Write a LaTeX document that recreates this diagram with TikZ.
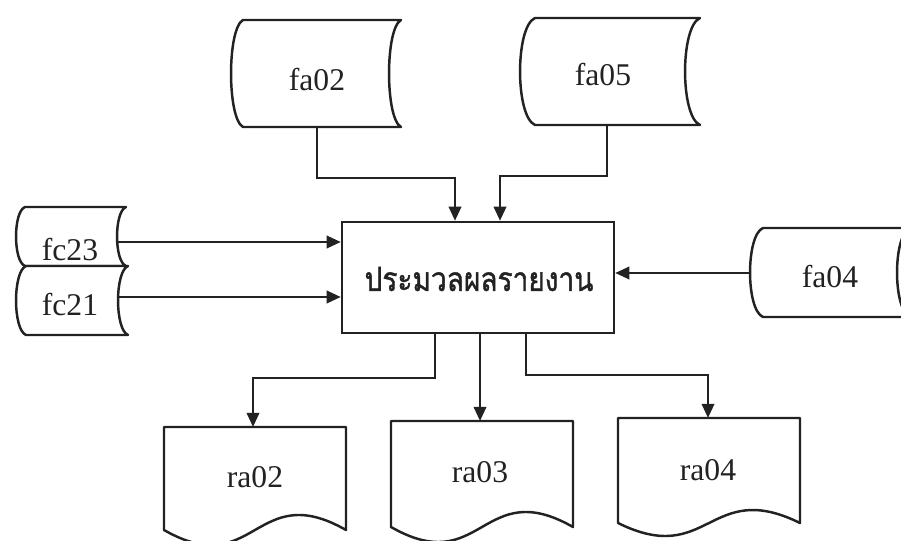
\documentclass[tikz,border=0pt]{standalone}
\usepackage{fontspec}
\setmainfont{Liberation Serif}
\newfontfamily\thaifont[Script=Thai, FakeStretch=0.84, FakeBold=1.2]{Loma}
\usetikzlibrary{arrows.meta}
\definecolor{ink}{HTML}{222222}

% stored-data symbol: corners (x1,y1)-(x2,y2), curved sides bulging left by b
\newcommand{\fcStored}[5]{%
  \path[shape line] (#1,#2) -- (#3,#2)
    .. controls ({#3-1.33*#5},{#2+0.08*(#4-#2)}) and ({#3-1.33*#5},{#4-0.08*(#4-#2)}) .. (#3,#4)
    -- (#1,#4)
    .. controls ({#1-1.33*#5},{#4-0.08*(#4-#2)}) and ({#1-1.33*#5},{#2+0.08*(#4-#2)}) .. cycle;}

% document symbol: left x1, top y1, right x2, side bottom y2, wave depth d
\newcommand{\fcDocument}[5]{%
  \path[shape line] (#1,#2) -- (#3,#2) -- (#3,#4)
    .. controls ({(#1+#3)/2},{#4-#5}) and ({(#1+#3)/2},{#4+#5}) .. (#1,#4) -- cycle;}

\begin{document}
\begin{tikzpicture}[x=0.02cm,y=-0.02cm,
  shape line/.style={draw=ink, line width=1.4pt, fill=white, line join=round},
  flow/.style={draw=ink, line width=1.4pt, -{Triangle[length=8pt,width=7pt]}},
  tag/.style={font=\fontsize{18}{18}\selectfont, text=ink, inner sep=0pt},
  process/.style={draw=ink, line width=1.4pt, fill=white, minimum width=5.44cm,
    minimum height=2.22cm, inner sep=0pt}
]
\useasboundingbox (0,0) rectangle (901,540);
\clip (0,0) rectangle (901,540);
\fill[white] (0,0) rectangle (901,540);

% data stores
\fcStored{243}{20}{401}{127}{12}
\fcStored{535}{18}{700}{125}{15}
\fcStored{763}{228}{910}{317}{13}
\fcStored{25}{207}{126}{266}{9}
\fcStored{26}{266}{128}{335}{10}

% reports
\fcDocument{164}{427}{346}{530}{52}
\fcDocument{391}{421}{573}{527}{52}
\fcDocument{618}{418}{800}{523}{45}

% process
\node[process] (proc) at (478,277.5) {};
\node[font=\thaifont\fontsize{19}{19}\selectfont, text=ink, inner sep=0pt] (proctext) at (479,279) {ประมวลผลรายงาน};

% labels
\node[tag] (fa02) at (317,80) {fa02};
\node[tag] (fa05) at (603,75) {fa05};
\node[tag] (fa04) at (830,277) {fa04};
\node[tag] (fc23) at (70,250) {fc23};
\node[tag] (fc21) at (70,305) {fc21};
\node[tag] (ra02) at (255,477) {ra02};
\node[tag] (ra03) at (480,472) {ra03};
\node[tag] (ra04) at (708,470) {ra04};

% connector end points on the symbols
\coordinate (fa02-out) at (317,127);
\coordinate (fa05-out) at (607,125);
\coordinate (fa04-out) at (750,273);
\coordinate (fc23-out) at (118,242);
\coordinate (fc21-out) at (118,297);
\coordinate (ra02-in) at (253,427);
\coordinate (ra03-in) at (480,421);
\coordinate (ra04-in) at (708,418);
\coordinate (j1) at (455,178);
\coordinate (j2) at (500,176);
\coordinate (j3) at (435,378);
\coordinate (j4) at (526,375);

% inputs
\draw[flow] (fa02-out) |- (j1) -- (j1 |- proc.north);
\draw[flow] (fa05-out) |- (j2) -- (j2 |- proc.north);
\draw[flow] (fc23-out) -- (fc23-out -| proc.west);
\draw[flow] (fc21-out) -- (fc21-out -| proc.west);
\draw[flow] (fa04-out) -- (fa04-out -| proc.east);

% outputs
\draw[flow] (j3 |- proc.south) -- (j3) -| (ra02-in);
\draw[flow] (ra03-in |- proc.south) -- (ra03-in);
\draw[flow] (j4 |- proc.south) -- (j4) -| (ra04-in);
\end{tikzpicture}
\end{document}
